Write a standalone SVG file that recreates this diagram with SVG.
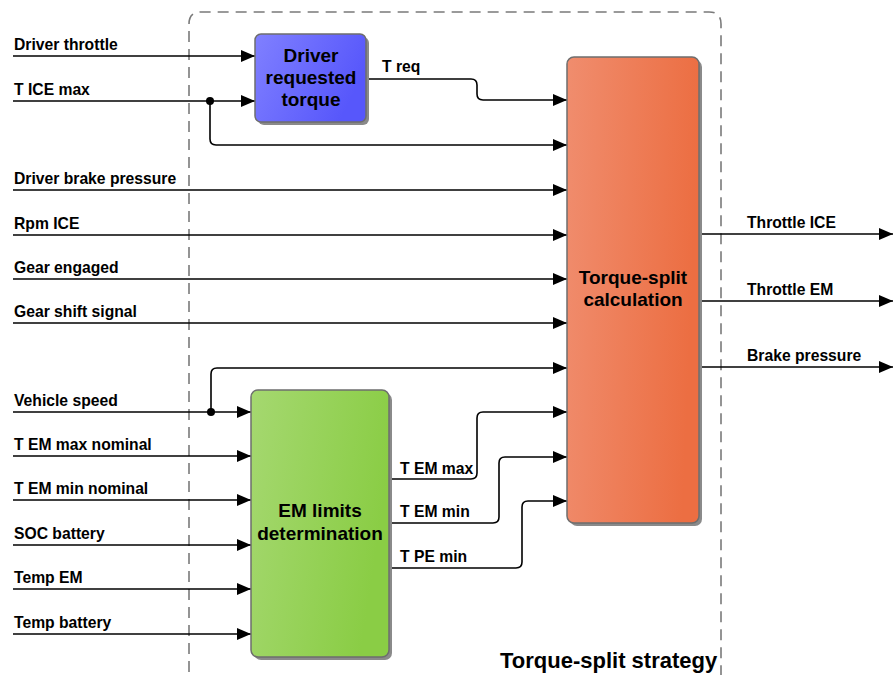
<svg xmlns="http://www.w3.org/2000/svg" width="893" height="675" viewBox="0 0 893 675">
  <style>
    .lbl { font-family: "Liberation Sans", Arial, sans-serif; font-weight: bold; font-size: 15.7px; fill: #000; }
    .blk { font-family: "Liberation Sans", Arial, sans-serif; font-weight: bold; font-size: 19px; fill: #000; text-anchor: middle; }
    .ttl { font-family: "Liberation Sans", Arial, sans-serif; font-weight: bold; font-size: 22px; fill: #000; }
    .wire { fill: none; stroke: #000; stroke-width: 1.6; }
    .box { stroke: #6e6e6e; stroke-width: 1.5; }
    .shadow { fill: #8a8a8a; }
  </style>
  <defs>
    <marker id="arrow" viewBox="0 0 14 12" refX="14" refY="6" markerWidth="14" markerHeight="12" markerUnits="userSpaceOnUse" orient="auto">
      <path d="M0,0 L14,6 L0,12 z" fill="#000"/>
    </marker>
    <linearGradient id="gBlue" x1="0" y1="0" x2="1" y2="0.4">
      <stop offset="0" stop-color="#8080ff"/>
      <stop offset="1" stop-color="#5757fb"/>
    </linearGradient>
    <linearGradient id="gGreen" x1="0" y1="0" x2="1" y2="0.3">
      <stop offset="0" stop-color="#a5d870"/>
      <stop offset="1" stop-color="#8acd45"/>
    </linearGradient>
    <linearGradient id="gOrange" x1="0" y1="0" x2="1" y2="0.15">
      <stop offset="0" stop-color="#f08d6e"/>
      <stop offset="1" stop-color="#ec6e42"/>
    </linearGradient>
  </defs>

  <rect width="893" height="675" fill="#fff"/>

  <!-- subsystem boundary -->
  <g id="strategy">
    <path d="M189,690 V24 Q189,12 201,12 H709 Q721,12 721,24 V690" fill="none" stroke="#7a7a7a" stroke-width="1.6" stroke-dasharray="11,7"/>
    <text class="ttl" x="500" y="668">Torque-split strategy</text>
  </g>

  <!-- connectors -->
  <g id="connectors">
    <path class="wire" d="M13,56 H255" marker-end="url(#arrow)"/>
    <path class="wire" d="M13,101 H255" marker-end="url(#arrow)"/>
    <path class="wire" d="M210,101 V139 Q210,145 216,145 H567" marker-end="url(#arrow)"/>
    <path class="wire" d="M366,79 H471 Q477,79 477,85 V94 Q477,100 483,100 H567" marker-end="url(#arrow)"/>
    <path class="wire" d="M13,190 H567" marker-end="url(#arrow)"/>
    <path class="wire" d="M13,235 H567" marker-end="url(#arrow)"/>
    <path class="wire" d="M13,279 H567" marker-end="url(#arrow)"/>
    <path class="wire" d="M13,323 H567" marker-end="url(#arrow)"/>
    <path class="wire" d="M13,412 H251" marker-end="url(#arrow)"/>
    <path class="wire" d="M211,412 V374 Q211,368 217,368 H567" marker-end="url(#arrow)"/>
    <path class="wire" d="M13,456 H251" marker-end="url(#arrow)"/>
    <path class="wire" d="M13,500 H251" marker-end="url(#arrow)"/>
    <path class="wire" d="M13,545 H251" marker-end="url(#arrow)"/>
    <path class="wire" d="M13,589 H251" marker-end="url(#arrow)"/>
    <path class="wire" d="M13,634 H251" marker-end="url(#arrow)"/>
    <path class="wire" d="M389,479 H471 Q477,479 477,473 V418 Q477,412 483,412 H567" marker-end="url(#arrow)"/>
    <path class="wire" d="M389,523 H493 Q499,523 499,517 V463 Q499,457 505,457 H567" marker-end="url(#arrow)"/>
    <path class="wire" d="M389,568 H516 Q522,568 522,562 V507 Q522,501 528,501 H567" marker-end="url(#arrow)"/>
    <path class="wire" d="M699,234 H893" marker-end="url(#arrow)"/>
    <path class="wire" d="M699,301 H893" marker-end="url(#arrow)"/>
    <path class="wire" d="M699,367 H893" marker-end="url(#arrow)"/>
    <circle cx="210" cy="101" r="4" fill="#000"/>
    <circle cx="211" cy="412" r="4" fill="#000"/>
  </g>

  <!-- signal labels -->
  <g id="labels">
    <text class="lbl" x="14" y="50">Driver throttle</text>
    <text class="lbl" x="14" y="95">T ICE max</text>
    <text class="lbl" x="14" y="184">Driver brake pressure</text>
    <text class="lbl" x="14" y="229">Rpm ICE</text>
    <text class="lbl" x="14" y="273">Gear engaged</text>
    <text class="lbl" x="14" y="317">Gear shift signal</text>
    <text class="lbl" x="14" y="406">Vehicle speed</text>
    <text class="lbl" x="14" y="450">T EM max nominal</text>
    <text class="lbl" x="14" y="494">T EM min nominal</text>
    <text class="lbl" x="14" y="539">SOC battery</text>
    <text class="lbl" x="14" y="583">Temp EM</text>
    <text class="lbl" x="14" y="628">Temp battery</text>
    <text class="lbl" x="382" y="72">T req</text>
    <text class="lbl" x="400" y="474">T EM max</text>
    <text class="lbl" x="400" y="517">T EM min</text>
    <text class="lbl" x="400" y="562">T PE min</text>
    <text class="lbl" x="747" y="228">Throttle ICE</text>
    <text class="lbl" x="747" y="295">Throttle EM</text>
    <text class="lbl" x="747" y="361">Brake pressure</text>
  </g>

  <!-- blocks -->
  <g id="driver-requested-torque">
    <rect class="shadow" x="258" y="37" width="111" height="88" rx="6"/>
    <rect class="box" x="255" y="34" width="111" height="88" rx="6" fill="url(#gBlue)"/>
    <text class="blk" x="311" y="62">Driver</text>
    <text class="blk" x="311" y="84">requested</text>
    <text class="blk" x="311" y="106">torque</text>
  </g>

  <g id="torque-split-calculation">
    <rect class="shadow" x="570" y="60" width="132" height="466" rx="7"/>
    <rect class="box" x="567" y="57" width="132" height="466" rx="7" fill="url(#gOrange)"/>
    <text class="blk" x="633" y="284">Torque-split</text>
    <text class="blk" x="633" y="306">calculation</text>
  </g>

  <g id="em-limits-determination">
    <rect class="shadow" x="254" y="393" width="138" height="267" rx="7"/>
    <rect class="box" x="251" y="390" width="138" height="267" rx="7" fill="url(#gGreen)"/>
    <text class="blk" x="320" y="517">EM limits</text>
    <text class="blk" x="320" y="540">determination</text>
  </g>
</svg>
